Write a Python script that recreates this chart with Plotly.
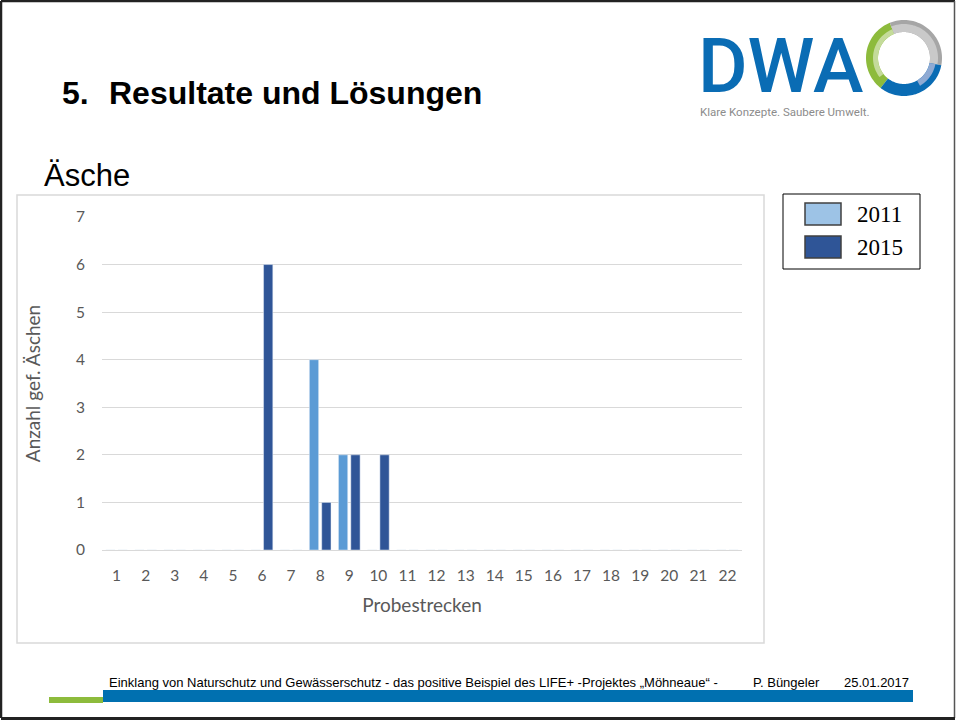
import math
import plotly.graph_objects as go

# Probestrecken 1..22 and number of graylings (Äschen) caught per survey year
stations = [str(i) for i in range(1, 23)]
series_names = ["2011", "2015"]
count_2011 = [0, 0, 0, 0, 0, 0, 0, 4, 2, 0, 0, 0, 0, 0, 0, 0, 0, 0, 0, 0, 0, 0]
count_2015 = [0, 0, 0, 0, 0, 6, 0, 1, 2, 2, 0, 0, 0, 0, 0, 0, 0, 0, 0, 0, 0, 0]
y_ticks = [0, 1, 2, 3, 4, 5, 6, 7]

bar_colors = ["#5B9BD5", "#2F5597"]
legend_colors = ["#9DC3E6", "#2F5597"]

# page geometry (pixels) and plot-area margins
W, H = 957, 720
ML, MR, MT, MB = 102, 215, 217, 170
PW, PH = W - ML - MR, H - MT - MB


def px(x):
    return (x - ML) / PW


def py(y):
    return (H - MB - y) / PH


fig = go.Figure()
for name, vals, col in zip(series_names, [count_2011, count_2015], bar_colors):
    fig.add_trace(go.Bar(x=stations, y=vals, name=name, marker_color=col,
                         showlegend=False))

axis_family = "Lato, Open Sans, sans-serif"
axis_font = dict(family=axis_family, size=15.5, color="#595959")
title_font = dict(family=axis_family, size=19, color="#595959")

fig.update_layout(
    width=W, height=H,
    margin=dict(l=ML, r=MR, t=MT, b=MB, pad=0),
    paper_bgcolor="white", plot_bgcolor="white",
    barmode="group", bargap=0.15, bargroupgap=0.25,
    xaxis=dict(type="category", showgrid=False, showline=False, ticks="",
               tickfont=axis_font, ticklabelstandoff=14,
               title=dict(text="Probestrecken", standoff=16, font=title_font)),
    yaxis=dict(range=[0, 7], tickvals=y_ticks, showgrid=True, gridcolor="#D9D9D9",
               gridwidth=1, zeroline=True, zerolinecolor="#D9D9D9", zerolinewidth=1,
               showline=False, ticks="", tickfont=axis_font, ticklabelstandoff=16,
               title=dict(text="Anzahl gef. Äschen", standoff=30, font=title_font)),
)

shapes = []
annotations = []


def rect(x0, y0, x1, y1, **kw):
    shapes.append(dict(type="rect", xref="paper", yref="paper",
                       x0=px(x0), x1=px(x1), y0=py(y0), y1=py(y1), **kw))


def line(x0, y0, x1, y1, color, width):
    shapes.append(dict(type="line", xref="paper", yref="paper",
                       x0=px(x0), x1=px(x1), y0=py(y0), y1=py(y1),
                       line=dict(color=color, width=width)))


def text(x, y, s, size, color="black", family="Liberation Sans, Arial, sans-serif",
         xanchor="left", weight="normal", **kw):
    annotations.append(dict(xref="paper", yref="paper", x=px(x), y=py(y), text=s,
                            showarrow=False, xanchor=xanchor, yanchor="middle",
                            font=dict(family=family, size=size, color=color, weight=weight),
                            **kw))


def ring(cx, cy, r0, r1, a0, a1, color, n=48):
    pts = []
    for i in range(n + 1):
        a = math.radians(a0 + (a1 - a0) * i / n)
        pts.append((cx + r1 * math.cos(a), cy - r1 * math.sin(a)))
    for i in range(n + 1):
        a = math.radians(a1 + (a0 - a1) * i / n)
        pts.append((cx + r0 * math.cos(a), cy - r0 * math.sin(a)))
    path = "M " + " L ".join(f"{px(x):.5f},{py(y):.5f}" for x, y in pts) + " Z"
    shapes.append(dict(type="path", xref="paper", yref="paper", path=path,
                       fillcolor=color, line=dict(width=0)))


# slide frame
line(1, 1, 955, 1, "#222222", 2.5)
line(1, 1, 1, 718, "#222222", 2.5)
line(954.5, 1, 954.5, 718, "#555555", 1.5)
line(1, 718.5, 955, 718.5, "#222222", 3)

# chart area frame
rect(17, 195, 764, 643, line=dict(color="#D9D9D9", width=1.5), fillcolor="rgba(0,0,0,0)")

# legend box
rect(783, 194, 920, 269, line=dict(color="black", width=1), fillcolor="white")
for i, (name, col) in enumerate(zip(series_names, legend_colors)):
    y0 = 203 + i * 33
    rect(805, y0, 841, y0 + 22, line=dict(color="#404040", width=1.5), fillcolor=col)
    text(855, y0 + 11, name, 23, family="Liberation Serif, Times New Roman, serif")

# headings
text(60, 93, "5.", 32, weight="bold")
text(107, 93, "Resultate und Lösungen", 32, weight="bold")
text(42, 175, "Äsche", 31)

# DWA logo
dwa_blue = "#0A6CB4"
text(780, 66, "DWA", 76, color=dwa_blue, family="Roboto, sans-serif",
     xanchor="center", weight=500, height=74, valign="middle")
text(698, 112, "Klare Konzepte. Saubere Umwelt.", 11.5, color="#8C8C8C",
     family="Roboto, sans-serif")
cx, cy = 904, 58
ring(cx, cy, 26, 38, 112, 232, "#8DBB3C")
ring(cx, cy, 26, 31, 112, 218, "#C4DB9A")
ring(cx, cy, 26, 38, -11, 112, "#A6A6A6")
ring(cx, cy, 26, 34, -11, 112, "#C9C9C9")
ring(cx, cy, 26, 38, -128, -11, dwa_blue)
ring(cx, cy, 26, 32, -60, -11, "#8FAAD3")

# footer
text(107, 682, "Einklang von Naturschutz und Gewässerschutz - das positive Beispiel des LIFE+ "
               "-Projektes „Möhneaue“ -", 13)
text(751, 682, "P. Büngeler", 13)
text(842, 682, "25.01.2017", 13)
rect(49, 697, 103, 703, line=dict(width=0), fillcolor="#8DBB3C")
rect(103, 690, 913, 702, line=dict(width=0), fillcolor="#0070B0")

fig.update_layout(shapes=shapes, annotations=annotations)
fig.write_html("out.html")
